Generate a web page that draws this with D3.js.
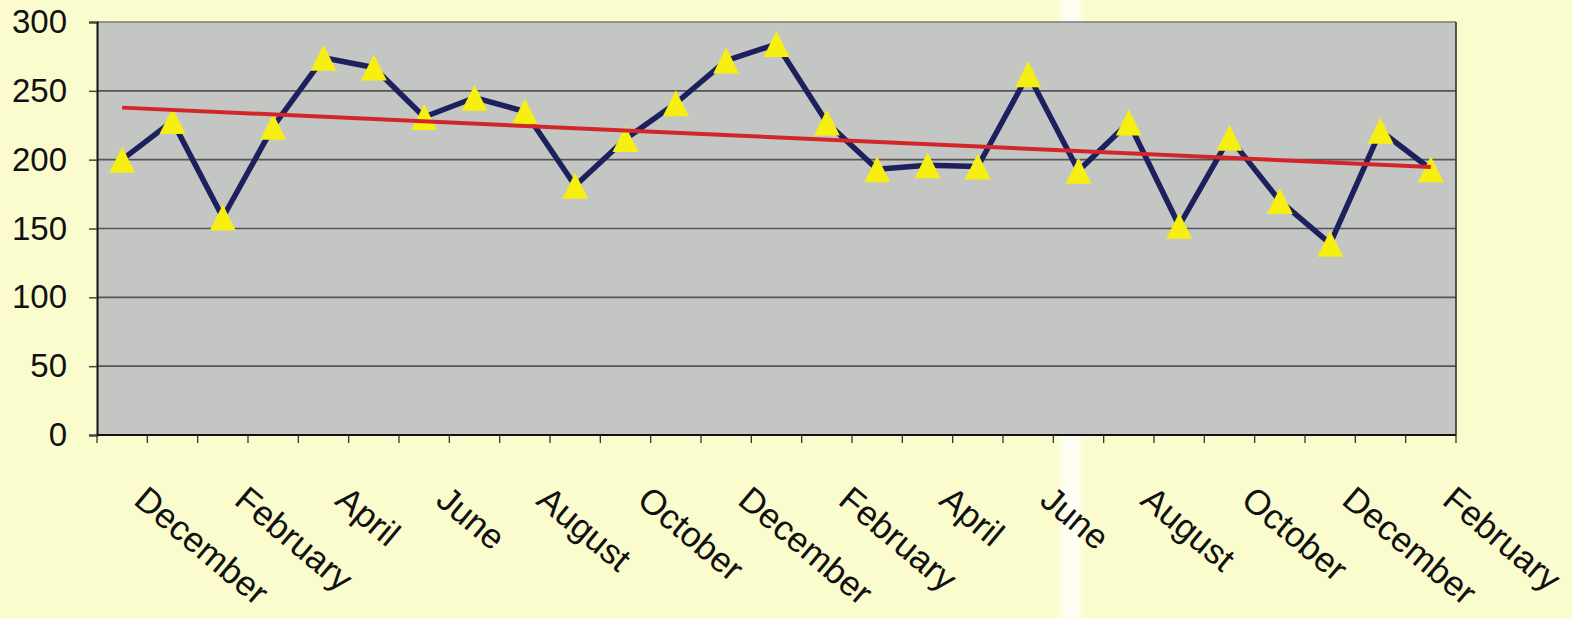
<!DOCTYPE html>
<html>
<head>
<meta charset="utf-8">
<script src="https://cdn.jsdelivr.net/npm/d3@7"></script>
<style>
  html, body { margin: 0; padding: 0; background: #fbfccd; }
  svg { display: block; }
</style>
</head>
<body>
<svg id="chart" width="1572" height="619"></svg>
<script>
// ---- data ----
const months = [
  "December","January","February","March","April","May","June","July","August",
  "September","October","November","December","January","February","March","April",
  "May","June","July","August","September","October","November","December","January","February"
];
const values = [200, 228, 158, 224, 274, 267, 231, 245, 235, 181, 215, 241, 272, 284,
                227, 193, 196, 195, 262, 192, 227, 152, 216, 170, 139, 221, 193];
const yTicks = [0, 50, 100, 150, 200, 250, 300];
const labelEvery = 2;

// ---- layout ----
const W = 1572, H = 619;
const plot = { left: 97, top: 22, right: 1456, bottom: 435 };
const svg = d3.select("#chart");
const FONT = "'Liberation Sans', Arial, Helvetica, sans-serif";

const defs = svg.append("defs");
const grad = defs.append("linearGradient").attr("id", "stripe").attr("x1", "0%").attr("x2", "100%");
grad.append("stop").attr("offset", "0%").attr("stop-color", "#fbfccd");
grad.append("stop").attr("offset", "30%").attr("stop-color", "#fefef4");
grad.append("stop").attr("offset", "70%").attr("stop-color", "#fefef4");
grad.append("stop").attr("offset", "100%").attr("stop-color", "#fbfccd");

svg.append("rect").attr("width", W).attr("height", H).attr("fill", "#fbfccd");
// paper gutter stripe (scan artifact)
svg.append("rect").attr("x", 1056).attr("y", 0).attr("width", 30).attr("height", H).attr("fill", "url(#stripe)");

const idx = d3.range(values.length);
const x = d3.scaleBand().domain(idx).range([plot.left, plot.right]).padding(0);
const y = d3.scaleLinear().domain([0, 300]).range([plot.bottom, plot.top]);
const cx = i => x(i) + x.bandwidth() / 2;

// plot background
svg.append("rect")
  .attr("x", plot.left).attr("y", plot.top)
  .attr("width", plot.right - plot.left).attr("height", plot.bottom - plot.top)
  .attr("fill", "#c4c6c4");

// gridlines
svg.append("g").selectAll("line").data(yTicks.filter(v => v > 0)).join("line")
  .attr("x1", plot.left).attr("x2", plot.right)
  .attr("y1", d => y(d)).attr("y2", d => y(d))
  .attr("stroke", d => d === 300 ? "#7a7a7a" : "#555")
  .attr("stroke-width", 1.6);

// right border
svg.append("line").attr("x1", plot.right).attr("x2", plot.right)
  .attr("y1", plot.top).attr("y2", plot.bottom)
  .attr("stroke", "#333").attr("stroke-width", 1.6);

// y axis
const yAxis = d3.axisLeft(y).tickValues(yTicks).tickSize(8).tickPadding(22);
const gy = svg.append("g").attr("transform", `translate(${plot.left},0)`).call(yAxis);
gy.select(".domain").attr("stroke", "#111").attr("stroke-width", 2);
gy.selectAll(".tick line").attr("stroke", "#444").attr("stroke-width", 1.5);
gy.selectAll(".tick text")
  .attr("font-family", FONT).attr("font-size", 33).attr("fill", "#111");

// x axis baseline and boundary ticks
svg.append("line").attr("x1", plot.left).attr("x2", plot.right)
  .attr("y1", plot.bottom).attr("y2", plot.bottom)
  .attr("stroke", "#111").attr("stroke-width", 2);
const bounds = idx.map(i => x(i)).concat([plot.right]);
svg.append("g").selectAll("line").data(bounds).join("line")
  .attr("x1", d => d).attr("x2", d => d)
  .attr("y1", plot.bottom).attr("y2", plot.bottom + 8)
  .attr("stroke", "#333").attr("stroke-width", 1.3);

// x labels
svg.append("g").selectAll("text")
  .data(idx.filter(i => i % labelEvery === 0)).join("text")
  .attr("transform", i => `translate(${cx(i) + 10},503) rotate(40)`)
  .attr("text-anchor", "start")
  .attr("font-family", FONT).attr("font-size", 35).attr("fill", "#111")
  .text(i => months[i]);

// data line
const line = d3.line().x((d, i) => cx(i)).y(d => y(d));
svg.append("path").datum(values)
  .attr("d", line).attr("fill", "none")
  .attr("stroke", "#1c215e").attr("stroke-width", 5.5).attr("stroke-linejoin", "round");

// markers (triangles)
const tw = 26, th = 26;
svg.append("g").selectAll("path").data(values).join("path")
  .attr("d", (d, i) => {
    const px = cx(i), py = y(d);
    return `M${px},${py - th / 2}L${px + tw / 2},${py + th / 2}L${px - tw / 2},${py + th / 2}Z`;
  })
  .attr("fill", "#f7ee12");

// linear trendline (least squares)
const n = values.length;
const mx = d3.mean(idx), my = d3.mean(values);
const slope = d3.sum(idx, i => (i - mx) * (values[i] - my)) / d3.sum(idx, i => (i - mx) ** 2);
const icpt = my - slope * mx;
svg.append("line")
  .attr("x1", cx(0)).attr("y1", y(icpt))
  .attr("x2", cx(n - 1)).attr("y2", y(icpt + slope * (n - 1)))
  .attr("stroke", "#d2262a").attr("stroke-width", 4);
</script>
</body>
</html>
